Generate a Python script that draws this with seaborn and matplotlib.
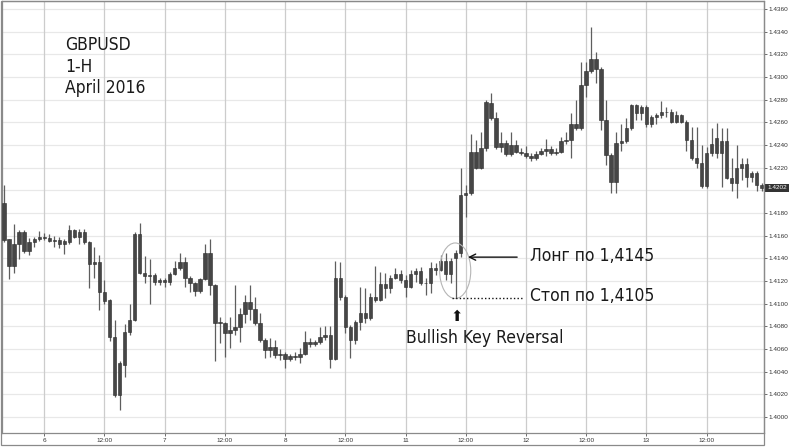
import numpy as np
import pandas as pd
import matplotlib
matplotlib.use('Agg')
import matplotlib.pyplot as plt
from matplotlib import font_manager
from matplotlib.patches import Ellipse, Rectangle
import matplotlib.transforms as mtransforms
import seaborn as sns

# GBPUSD 1-H, April 2016
opens = [1.4189, 1.4157, 1.4133, 1.4153, 1.4163, 1.4146, 1.4154, 1.4157, 1.4159, 1.4158,
         1.4155, 1.4156, 1.4153, 1.4154, 1.4165, 1.4159, 1.4163, 1.4154, 1.4135, 1.4137,
         1.4110, 1.4103, 1.4071, 1.4019, 1.4046, 1.4075, 1.4086, 1.4161, 1.4127, 1.4124,
         1.4125, 1.4119, 1.4121, 1.4119, 1.4126, 1.4131, 1.4137, 1.4123, 1.4118, 1.4111,
         1.4122, 1.4145, 1.4116, 1.4083, 1.4083, 1.4074, 1.4077, 1.4079, 1.4091, 1.4101,
         1.4095, 1.4083, 1.4068, 1.4059, 1.4062, 1.4055, 1.4056, 1.4051, 1.4054, 1.4053,
         1.4056, 1.4066, 1.4064, 1.4066, 1.4071, 1.4072, 1.4051, 1.4123, 1.4106, 1.4079,
         1.4068, 1.4084, 1.4092, 1.4087, 1.4106, 1.4103, 1.4117, 1.4114, 1.4123, 1.4126,
         1.4121, 1.4115, 1.4126, 1.4129, 1.4118, 1.4118, 1.4131, 1.4130, 1.4138, 1.4126,
         1.4140, 1.4145, 1.4196, 1.4198, 1.4234, 1.4220, 1.4237, 1.4277, 1.4264, 1.4238,
         1.4242, 1.4232, 1.4240, 1.4234, 1.4233, 1.4230, 1.4228, 1.4232, 1.4235, 1.4236,
         1.4233, 1.4234, 1.4243, 1.4244, 1.4258, 1.4255, 1.4293, 1.4305, 1.4316, 1.4307,
         1.4262, 1.4231, 1.4207, 1.4242, 1.4243, 1.4255, 1.4275, 1.4268, 1.4273, 1.4258,
         1.4265, 1.4266, 1.4269, 1.4269, 1.4260, 1.4266, 1.4260, 1.4244, 1.4228, 1.4224,
         1.4204, 1.4233, 1.4233, 1.4233, 1.4243, 1.4211, 1.4206, 1.4220, 1.4223, 1.4212,
         1.4215, 1.4205]
closes = [1.4156, 1.4133, 1.4153, 1.4163, 1.4146, 1.4154, 1.4157, 1.4159, 1.4158, 1.4155,
          1.4156, 1.4153, 1.4155, 1.4165, 1.4159, 1.4163, 1.4154, 1.4135, 1.4137, 1.4110,
          1.4102, 1.4071, 1.4019, 1.4048, 1.4075, 1.4086, 1.4161, 1.4127, 1.4124, 1.4125,
          1.4119, 1.4121, 1.4119, 1.4126, 1.4131, 1.4137, 1.4123, 1.4118, 1.4111, 1.4122,
          1.4145, 1.4116, 1.4083, 1.4083, 1.4074, 1.4077, 1.4079, 1.4091, 1.4101, 1.4095,
          1.4083, 1.4068, 1.4059, 1.4062, 1.4055, 1.4056, 1.4051, 1.4054, 1.4053, 1.4056,
          1.4066, 1.4064, 1.4066, 1.4071, 1.4072, 1.4051, 1.4123, 1.4106, 1.4079, 1.4068,
          1.4084, 1.4092, 1.4087, 1.4106, 1.4103, 1.4117, 1.4114, 1.4123, 1.4126, 1.4121,
          1.4115, 1.4126, 1.4129, 1.4118, 1.4118, 1.4131, 1.4130, 1.4138, 1.4126, 1.4138,
          1.4145, 1.4196, 1.4198, 1.4234, 1.4220, 1.4237, 1.4278, 1.4264, 1.4238, 1.4242,
          1.4232, 1.4240, 1.4234, 1.4233, 1.4230, 1.4228, 1.4232, 1.4235, 1.4236, 1.4233,
          1.4234, 1.4243, 1.4244, 1.4258, 1.4255, 1.4293, 1.4305, 1.4316, 1.4307, 1.4262,
          1.4231, 1.4207, 1.4242, 1.4243, 1.4255, 1.4275, 1.4268, 1.4273, 1.4258, 1.4265,
          1.4266, 1.4269, 1.4269, 1.4260, 1.4266, 1.4260, 1.4244, 1.4228, 1.4224, 1.4204,
          1.4233, 1.4241, 1.4246, 1.4243, 1.4211, 1.4206, 1.4220, 1.4223, 1.4212, 1.4215,
          1.4205, 1.4202]
highs = [1.4205, 1.4157, 1.4170, 1.4165, 1.4165, 1.4158, 1.4159, 1.4164, 1.4162, 1.4161,
         1.4160, 1.4159, 1.4157, 1.4169, 1.4166, 1.4166, 1.4166, 1.4155, 1.4150, 1.4143,
         1.4121, 1.4104, 1.4086, 1.4049, 1.4082, 1.4100, 1.4163, 1.4171, 1.4142, 1.4139,
         1.4127, 1.4123, 1.4123, 1.4128, 1.4138, 1.4145, 1.4141, 1.4124, 1.4119, 1.4123,
         1.4153, 1.4157, 1.4117, 1.4088, 1.4084, 1.4088, 1.4116, 1.4096, 1.4108, 1.4116,
         1.4106, 1.4092, 1.4070, 1.4070, 1.4068, 1.4060, 1.4057, 1.4056, 1.4057, 1.4061,
         1.4076, 1.4070, 1.4068, 1.4079, 1.4080, 1.4080, 1.4138, 1.4137, 1.4108, 1.4081,
         1.4086, 1.4115, 1.4114, 1.4109, 1.4133, 1.4128, 1.4127, 1.4125, 1.4131, 1.4130,
         1.4125, 1.4130, 1.4131, 1.4132, 1.4123, 1.4137, 1.4136, 1.4143, 1.4145, 1.4140,
         1.4147, 1.4220, 1.4205, 1.4250, 1.4244, 1.4251, 1.4280, 1.4286, 1.4269, 1.4251,
         1.4244, 1.4251, 1.4244, 1.4237, 1.4239, 1.4233, 1.4235, 1.4237, 1.4245, 1.4239,
         1.4237, 1.4247, 1.4251, 1.4268, 1.4280, 1.4313, 1.4313, 1.4344, 1.4322, 1.4309,
         1.4280, 1.4233, 1.4251, 1.4258, 1.4264, 1.4276, 1.4276, 1.4275, 1.4275, 1.4266,
         1.4268, 1.4279, 1.4273, 1.4272, 1.4270, 1.4267, 1.4262, 1.4256, 1.4256, 1.4240,
         1.4238, 1.4255, 1.4259, 1.4255, 1.4255, 1.4228, 1.4240, 1.4228, 1.4228, 1.4217,
         1.4217, 1.4206]
lows = [1.4154, 1.4122, 1.4127, 1.4139, 1.4145, 1.4143, 1.4150, 1.4155, 1.4156, 1.4154,
        1.4150, 1.4149, 1.4144, 1.4153, 1.4158, 1.4153, 1.4153, 1.4114, 1.4123, 1.4094,
        1.4100, 1.4067, 1.4018, 1.4006, 1.4035, 1.4072, 1.4085, 1.4126, 1.4118, 1.4100,
        1.4116, 1.4116, 1.4115, 1.4116, 1.4125, 1.4130, 1.4115, 1.4110, 1.4107, 1.4109,
        1.4121, 1.4108, 1.4049, 1.4065, 1.4053, 1.4061, 1.4072, 1.4066, 1.4083, 1.4086,
        1.4081, 1.4066, 1.4052, 1.4053, 1.4052, 1.4050, 1.4043, 1.4049, 1.4050, 1.4048,
        1.4055, 1.4062, 1.4063, 1.4064, 1.4068, 1.4043, 1.4050, 1.4103, 1.4074, 1.4052,
        1.4064, 1.4077, 1.4083, 1.4086, 1.4101, 1.4102, 1.4105, 1.4109, 1.4122, 1.4118,
        1.4106, 1.4114, 1.4119, 1.4116, 1.4108, 1.4109, 1.4125, 1.4129, 1.4121, 1.4118,
        1.4105, 1.4141, 1.4176, 1.4196, 1.4219, 1.4219, 1.4235, 1.4262, 1.4236, 1.4234,
        1.4230, 1.4230, 1.4233, 1.4231, 1.4228, 1.4226, 1.4227, 1.4231, 1.4230, 1.4231,
        1.4231, 1.4233, 1.4241, 1.4228, 1.4253, 1.4253, 1.4282, 1.4303, 1.4295, 1.4253,
        1.4222, 1.4198, 1.4198, 1.4235, 1.4242, 1.4253, 1.4262, 1.4262, 1.4256, 1.4256,
        1.4258, 1.4264, 1.4265, 1.4259, 1.4259, 1.4259, 1.4235, 1.4227, 1.4220, 1.4202,
        1.4202, 1.4230, 1.4228, 1.4203, 1.4210, 1.4199, 1.4193, 1.4209, 1.4203, 1.4207,
        1.4199, 1.4199]

# часовые свечи, выходные пропущены
hours = list(pd.date_range('2016-04-05 16:00', '2016-04-08 23:00', freq='h')) + \
        list(pd.date_range('2016-04-11 00:00', '2016-04-13 23:00', freq='h'))

df = pd.DataFrame({'time': hours, 'open': opens, 'high': highs, 'low': lows, 'close': closes})
df['idx'] = np.arange(len(df))

sns.set_theme(style='white')

# узкий гротеск с кириллицей, если установлен
narrow = None
for f in font_manager.fontManager.ttflist:
    nm = f.name.lower()
    if 'mono' in nm or 'serif' in nm or 'sans' not in nm or 'cjk' in nm:
        continue
    if f.style != 'normal' or f.weight not in (400, 'normal', 'regular'):
        continue
    if 'narrow' in nm or 'condensed' in nm or f.stretch in ('condensed', 'semi-condensed'):
        narrow = f
        break
if narrow is not None:
    txt_font = dict(family=[narrow.name, 'DejaVu Sans'], stretch=narrow.stretch)
    big = 12.5
else:
    txt_font = dict(family=['Liberation Sans', 'DejaVu Sans'])
    big = 10.3
plt.rcParams['font.family'] = ['Liberation Sans', 'DejaVu Sans']

fig = plt.figure(figsize=(7.9, 4.47), dpi=100)
ax = fig.add_axes([2 / 790, 14 / 447, 762 / 790, 432 / 447])

# сетка
y_ticks = np.arange(1.4000, 1.43601, 0.002)
ax.set_yticks(y_ticks)
ax.set_yticklabels(['' if abs(v - closes[-1]) < 0.001 else f'{v:.4f}' for v in y_ticks])
tick_rows = df[df['time'].dt.hour.isin([0, 12])]
ax.set_xticks(tick_rows['idx'])
ax.set_xticklabels([str(t.day) if t.hour == 0 else '12:00' for t in tick_rows['time']])
for y in y_ticks:
    ax.axhline(y, color='#e8e8e8', lw=0.9, zorder=0)
for x in tick_rows['idx']:
    ax.axvline(x, color='#cccccc', lw=0.9, zorder=0)

# свечи
ax.vlines(df['idx'], df['low'], df['high'], color='#5e5e5e', lw=0.9, zorder=2)
body_lo = df[['open', 'close']].min(axis=1)
body_h = (df['open'] - df['close']).abs().clip(lower=0.00004)
ax.bar(df['idx'], body_h, bottom=body_lo, width=0.7, color='#464646',
       edgecolor='#2a2a2a', linewidth=0.4, zorder=3)

ax.set_xlim(-0.43, 151.45)
ax.set_ylim(1.39859, 1.43669)

ax.yaxis.tick_right()
ax.tick_params(axis='y', labelsize=4.6, colors='#333333', length=2, width=0.5, pad=1.5, right=True)
ax.tick_params(axis='x', labelsize=4.6, colors='#333333', length=2, width=0.5, pad=1.5, bottom=True)
for sp in ax.spines.values():
    sp.set_color('#8a8a8a')
    sp.set_linewidth(0.9)

# последняя цена
tr = mtransforms.blended_transform_factory(ax.transAxes, ax.transData)
ax.text(1.004, closes[-1], f'{closes[-1]:.4f}', transform=tr, fontsize=4.6, color='white',
        va='center', ha='left', zorder=10,
        bbox=dict(boxstyle='square,pad=0.3', fc='#333333', ec='none'))

# заголовок
for label, yv in [('GBPUSD', 1.4324), ('1-H', 1.4304), ('April 2016', 1.4286)]:
    ax.text(12.2, yv, label, fontsize=big, va='baseline', color='#1a1a1a', **txt_font)

# разметка сигнала
ax.add_patch(Ellipse((89.9, 1.4129), 6.2, 0.0049, fill=False, ec='#b5b5b5', lw=0.8, zorder=4))
ax.annotate('', xy=(91.9, 1.4141), xytext=(102.8, 1.4141),
            arrowprops=dict(arrowstyle='->', color='#111111', lw=1.0, mutation_scale=11), zorder=5)
ax.text(104.9, 1.4142, 'Лонг по 1,4145', fontsize=big, va='center', ha='left',
        color='#1a1a1a', **txt_font)
ax.plot([89.2, 103.3], [1.4105, 1.4105], ls=(0, (1, 1.6)), color='#111111', lw=1.0, zorder=5)
ax.text(104.9, 1.4107, 'Стоп по 1,4105', fontsize=big, va='center', ha='left',
        color='#1a1a1a', **txt_font)
ax.text(90.2, 1.4089, '⬆', fontsize=10.5, va='center', ha='center', color='#111111',
        family=['DejaVu Sans'])
ax.text(95.8, 1.4070, 'Bullish Key Reversal', fontsize=big, va='center', ha='center',
        color='#1a1a1a', **txt_font)

# внешняя рамка
fig.patches.append(Rectangle((1 / 790, 2 / 447), 763 / 790, 444 / 447, transform=fig.transFigure,
                             fill=False, ec='#8a8a8a', lw=0.9))

fig.savefig('out.png', dpi=100)
